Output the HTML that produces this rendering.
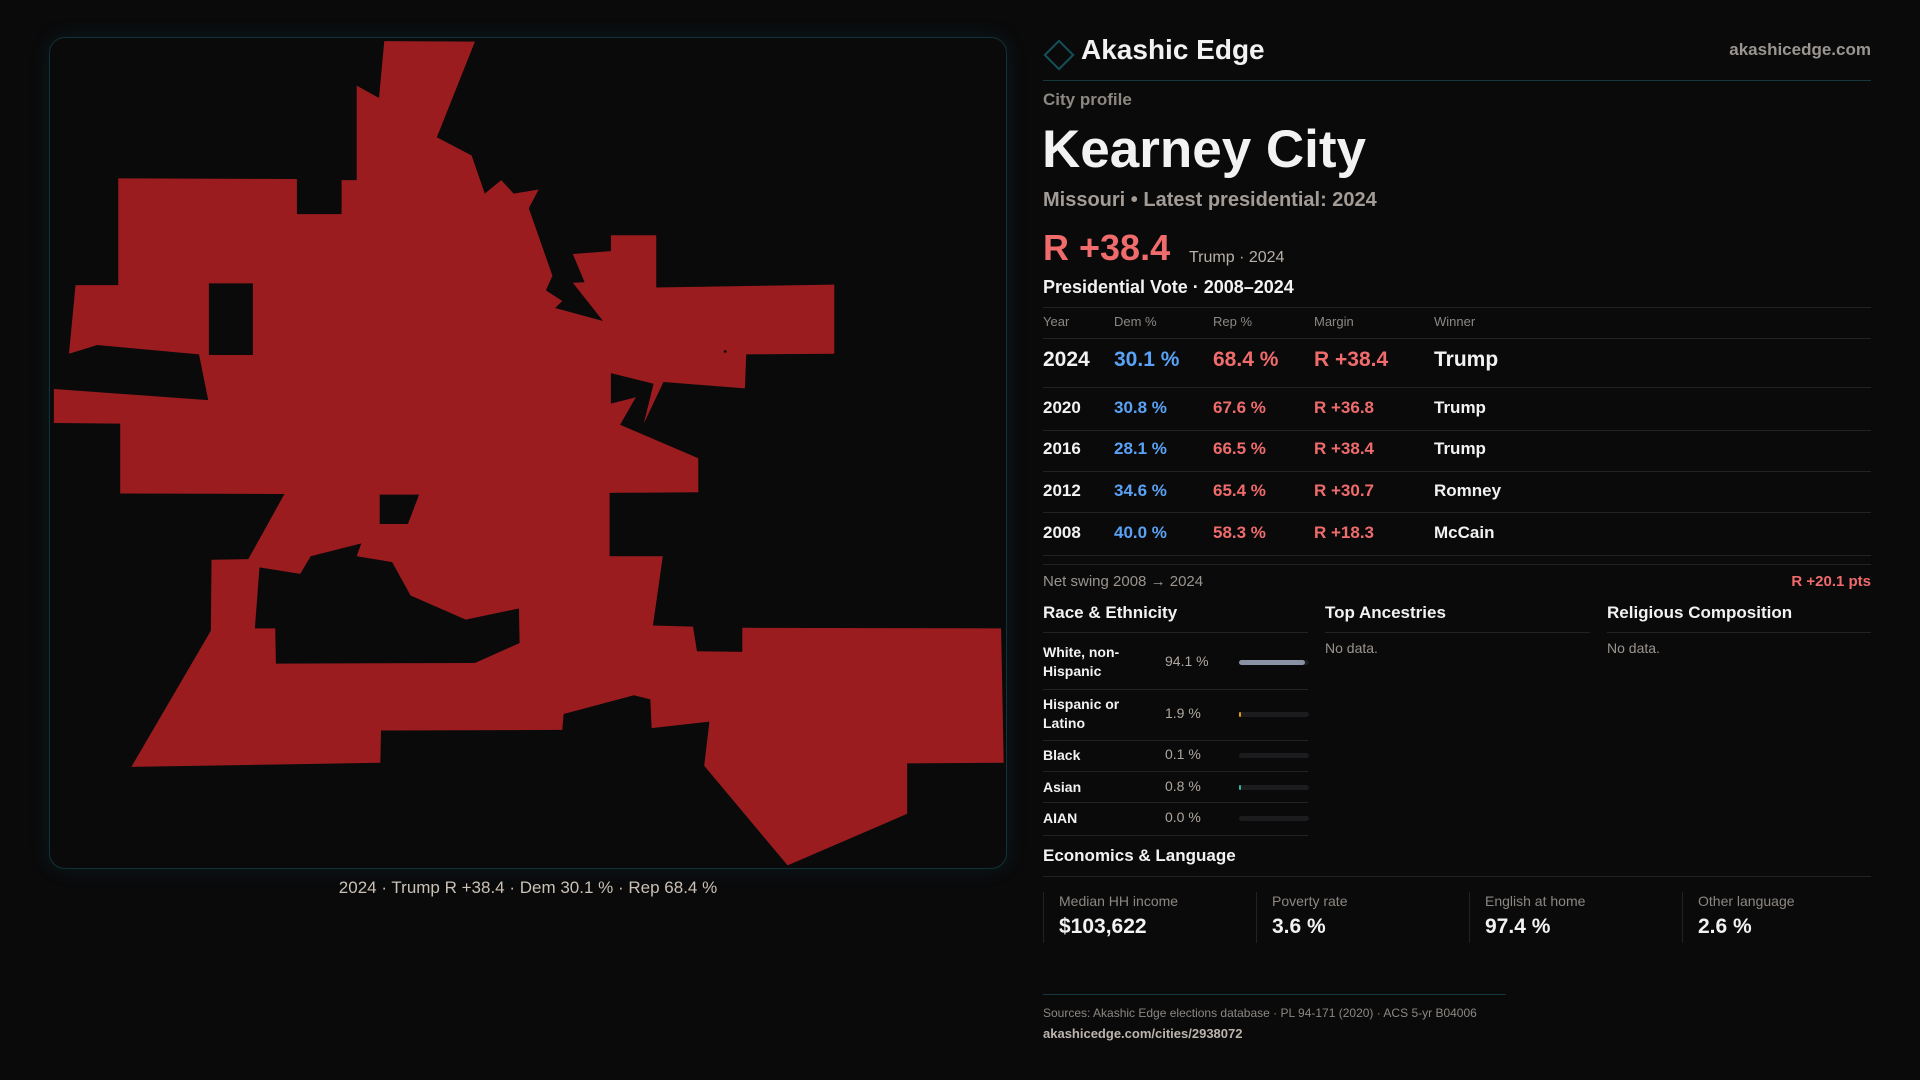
<!DOCTYPE html>
<html><head><meta charset="utf-8">
<style>
body{margin:0;width:1920px;height:1080px;background:#0a0a0b;font-family:"Liberation Sans",sans-serif;color:#f2f2f2;position:relative;overflow:hidden}
.a{position:absolute;white-space:nowrap}
.hl{position:absolute;height:1px;background:#232325}
.g{color:#9b948e}
.blue{color:#5aa2f5}.red{color:#f06b6b}
</style></head><body>
<div class="a" style="left:49px;top:37px;width:956px;height:830px;border:1px solid #113238;border-radius:16px;box-shadow:0 0 18px rgba(20,80,90,0.25)"></div>
<svg class="a" style="left:0;top:0" width="1030" height="920" viewBox="0 0 1568 1568" preserveAspectRatio="none">
<polygon fill="#9b1c1f" points="585,70 723,71 665,234 718,265 738,330 763,307 782,330 820,323 805,355 841,470 831,495 856,513 845,525 918,547 872,482 890,481 872,433 930,428 930,401 999,401 999,490 1270,485 1270,603 1136,604 1134,662 1010,651 980,722 995,654 930,636 930,688 968,677 944,724 1063,781 1063,839 928,840 928,948 1009,948 994,1066 1055,1068 1061,1110 1130,1111 1130,1070 1524,1071 1528,1300 1381,1301 1381,1387 1199,1475 1072,1305 1080,1230 992,1241 990,1192 965,1185 858,1217 856,1244 580,1245 579,1300 200,1307 321,1075 322,954 378,953 433,842 183,841 183,722 82,721 82,663 317,682 303,604 148,588 105,603 115,486 180,486 180,304 452,305 452,365 520,365 520,307 543,307 543,146 577,167"/>
<g fill="#0a0a0b">
<polygon points="318,483 385,483 385,605 318,605"/>
<polygon points="578,843 638,843 621,893 578,893"/>
<polygon points="395,967 457,978 473,948 550,926 543,948 597,958 625,1015 709,1056 790,1037 791,1096 723,1130 420,1131 419,1071 388,1071"/>
<rect x="1102" y="597" width="4" height="4"/>
</g>
</svg>
<div class="a" style="left:0;width:1056px;text-align:center;top:878px;font-size:17px;color:#c9c0b6">2024 · Trump R +38.4 · Dem 30.1 % · Rep 68.4 %</div>

<div class="a" style="left:1048px;top:44px;width:18px;height:18px;border:2px solid #14505a;transform:rotate(45deg)"></div>
<div class="a" style="left:1081px;top:34px;font-size:28px;font-weight:bold">Akashic Edge</div>
<div class="a" style="right:49px;top:40px;font-size:17px;font-weight:bold;color:#9a9590">akashicedge.com</div>
<div class="hl" style="left:1043px;width:828px;top:80px;background:#15393f"></div>
<div class="a g" style="left:1043px;top:90px;font-size:17px;font-weight:bold;color:#8d8781">City profile</div>
<div class="a" style="left:1042px;top:119px;font-size:53px;font-weight:bold">Kearney City</div>
<div class="a" style="left:1043px;top:189px;font-size:20px;font-weight:bold;color:#a39c96">Missouri • Latest presidential: 2024</div>
<div class="a red" style="left:1043px;top:227px;font-size:36px;font-weight:bold">R +38.4</div>
<div class="a" style="left:1189px;top:249px;font-size:16px;color:#b8b0a8">Trump · 2024</div>
<div class="a" style="left:1043px;top:277px;font-size:18px;font-weight:bold">Presidential Vote · 2008–2024</div>
<div class="hl" style="left:1043px;width:828px;top:307px"></div>
<div id="vt"></div>
<div class="a g" style="left:1043px;top:573px;font-size:15px">Net swing 2008 → 2024</div>
<div class="a red" style="right:49px;top:573px;font-size:15px;font-weight:bold">R +20.1 pts</div>

<div class="a" style="left:1043px;top:603px;font-size:17px;font-weight:bold">Race &amp; Ethnicity</div>
<div class="a" style="left:1325px;top:603px;font-size:17px;font-weight:bold">Top Ancestries</div>
<div class="a" style="left:1607px;top:603px;font-size:17px;font-weight:bold">Religious Composition</div>
<div class="hl" style="left:1043px;width:265px;top:632px"></div>
<div class="hl" style="left:1325px;width:265px;top:632px"></div>
<div class="hl" style="left:1607px;width:264px;top:632px"></div>
<div class="a g" style="left:1325px;top:640px;font-size:14px">No data.</div>
<div class="a g" style="left:1607px;top:640px;font-size:14px">No data.</div>
<div id="race"></div>

<div class="a" style="left:1043px;top:846px;font-size:17px;font-weight:bold">Economics &amp; Language</div>
<div class="hl" style="left:1043px;width:828px;top:876px"></div>
<div id="econ"></div>

<div class="hl" style="left:1043px;width:463px;top:994px;background:#15393f"></div>
<div class="a g" style="left:1043px;top:1006px;font-size:12px;color:#8d8781">Sources: Akashic Edge elections database · PL 94-171 (2020) · ACS 5-yr B04006</div>
<div class="a" style="left:1043px;top:1026px;font-size:13px;font-weight:bold;color:#bcb5ae">akashicedge.com/cities/2938072</div>

<script>
const years=["2024","2020","2016","2012","2008"];
const demPct=[30.1,30.8,28.1,34.6,40.0];
const repPct=[68.4,67.6,66.5,65.4,58.3];
const margins=[38.4,36.8,38.4,30.7,18.3];
const winners=["Trump","Trump","Trump","Romney","McCain"];
const raceLabels=["White, non-<br>Hispanic","Hispanic or<br>Latino","Black","Asian","AIAN"];
const raceValues=[94.1,1.9,0.1,0.8,0.0];
const raceColors=["#8a93a5","#e09a1a","#5a6a7a","#2fb89a","#777"];
const econLabels=["Median HH income","Poverty rate","English at home","Other language"];
const econValues=["$103,622","3.6 %","97.4 %","2.6 %"];

function mk(parent,html,style,name,cls){
  const d=document.createElement('div');
  d.className='a '+(cls||'');
  d.style.cssText=style;d.innerHTML=html;
  
  
  parent.appendChild(d);return d;
}
const vt=document.getElementById('vt');
const cols=[1043,1114,1213,1314,1434];
["Year","Dem %","Rep %","Margin","Winner"].forEach((h,i)=>mk(vt,h,`left:${cols[i]}px;top:314px;font-size:13px;color:#8d8781`,'table-header','g'));
mk(vt,'',"left:1043px;width:828px;height:1px;top:338px;background:#232325",'table-rule');
const rowCenters=[361,408,449,491,533];
years.forEach((y,i)=>{
  const fs=i==0?21:17,c=rowCenters[i],t=c-fs*0.6;
  const m=margins[i];
  mk(vt,y,`left:${cols[0]}px;top:${t}px;font-size:${fs}px;font-weight:bold`,'row-year');
  mk(vt,demPct[i].toFixed(1)+' %',`left:${cols[1]}px;top:${t}px;font-size:${fs}px;font-weight:bold`,'row-dem','blue');
  mk(vt,repPct[i].toFixed(1)+' %',`left:${cols[2]}px;top:${t}px;font-size:${fs}px;font-weight:bold`,'row-rep','red');
  mk(vt,(m>=0?'R +':'D +')+Math.abs(m).toFixed(1),`left:${cols[3]}px;top:${t}px;font-size:${fs}px;font-weight:bold`,'row-margin','red');
  mk(vt,winners[i],`left:${cols[4]}px;top:${t}px;font-size:${fs}px;font-weight:bold`,'row-winner');
});
[387,430,471,512,555,564].forEach(y=>mk(vt,'',`left:1043px;width:828px;height:1px;top:${y}px;background:#232325`,'table-rule'));

const race=document.getElementById('race');
const rc=[662,714,755,787,818],rl=[689,740,771,802,835];
raceLabels.forEach((l,i)=>{
  const two=l.includes('<br>');
  mk(race,l,`left:1043px;top:${rc[i]-(two?19:9)}px;font-size:14px;font-weight:bold;line-height:19px;white-space:normal`,'race-label');
  mk(race,raceValues[i].toFixed(1)+' %',`left:1165px;top:${rc[i]-9}px;font-size:14px;color:#b0a89f`,'race-value');
  mk(race,'',`left:1239px;top:${rc[i]-2}px;width:70px;height:5px;border-radius:3px;background:#1c1c1f`,'race-bar-track');
  mk(race,'',`left:1239px;top:${rc[i]-2}px;width:${Math.max(raceValues[i]/100*70,raceValues[i]>0.5?1.5:0)}px;height:5px;border-radius:3px;background:${raceColors[i]}`,'race-bar');
  mk(race,'',`left:1043px;width:265px;height:1px;top:${rl[i]}px;background:#232325`,'race-rule');
});
const econ=document.getElementById('econ');
const ex=[1043,1256,1469,1682];
econLabels.forEach((l,i)=>{
  mk(econ,'',`left:${ex[i]}px;top:892px;width:1px;height:51px;background:#222224`,'econ-card-border');
  mk(econ,l,`left:${ex[i]+16}px;top:893px;font-size:14px;color:#8d8781`,'econ-label');
  mk(econ,econValues[i],`left:${ex[i]+16}px;top:915px;font-size:21px;font-weight:bold`,'econ-value');
});
</script>
</body></html>
